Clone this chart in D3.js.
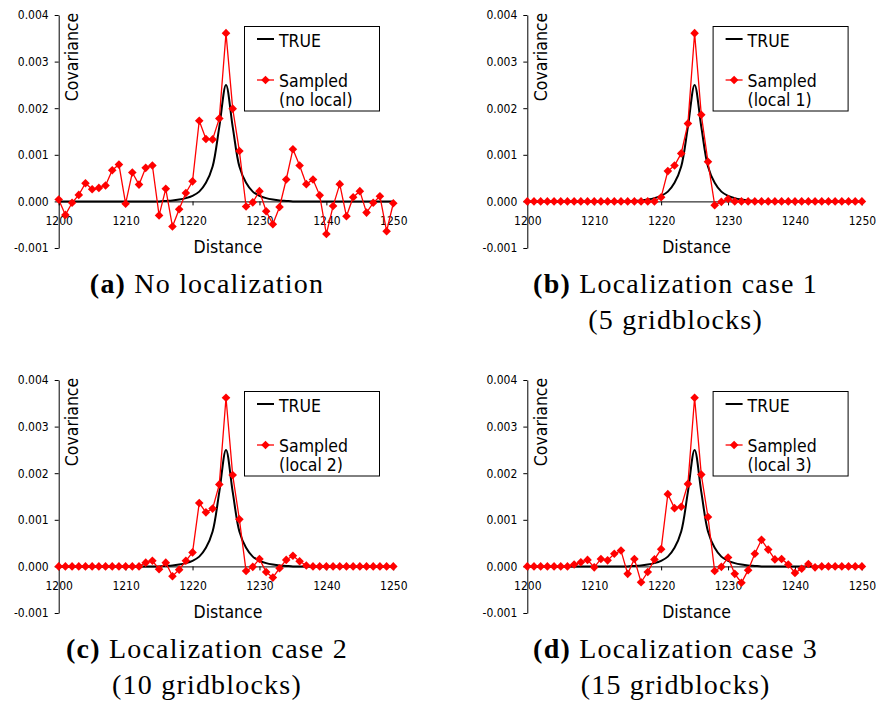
<!DOCTYPE html>
<html>
<head>
<meta charset="utf-8">
<script src="https://cdn.jsdelivr.net/npm/d3@7"></script>
<style>
body { margin: 0; background: #fff; }
svg { display: block; }
.lab { font-family: 'DejaVu Sans Condensed', 'DejaVu Sans', sans-serif; font-size: 17.5px; fill: #000; }
.cap { font-family: 'Liberation Serif', 'Times New Roman', Tinos, 'DejaVu Serif', serif; font-size: 28px; letter-spacing: 1.2px; fill: #000; }
</style>
</head>
<body>
<svg width="876" height="705"></svg>
<script>
// distance axis categories (gridblocks)
var distance = d3.range(1200, 1251)

var trueCov = [
	0,0,0,0,0,0,0,0,0,0,0,0,0,0,0,0,
	0.00001,0.00002,0.00004,0.00007,0.00012,0.00021,0.0004,0.00075,0.0016,
	0.0025,
	0.0016,0.00075,0.0004,0.00021,0.00012,0.00007,0.00004,0.00002,0.00001,
	0,0,0,0,0,0,0,0,0,0,0,0,0,0,0,0
]

var sampledA = [
	0.00004,-0.00029,-0.00003,0.00014,0.00039,0.00026,0.00029,0.00034,0.00067,0.00079,
	-0.00005,0.00062,0.00036,0.00072,0.00077,-0.0003,0.00027,-0.00054,-0.00017,0.00018,
	0.00043,0.00173,0.00134,0.00133,0.00178,0.00361,0.00199,0.00108,-0.00011,-0.00002,
	0.00022,-0.00021,-0.00049,-0.00012,0.00047,0.00112,0.00077,0.00037,0.00047,0.00013,
	-0.0007,-0.0001,0.00037,-0.00032,0.00009,0.00022,-0.00024,-0.00003,0.00011,-0.00064,
	-0.00004
]

var sampledB = [
	0,0,0,0,0,0,0,0,0,0,0,0,0,0,0,0,0,0,0,0,
	0.00009,0.00065,0.00077,0.00103,0.00167,0.00361,0.00186,0.00085,-0.00008,-0.00001,0.00005,
	0,0,0,0,0,0,0,0,0,0,0,0,0,0,0,0,0,0,0,0
]

var sampledC = [
	0,0,0,0,0,0,0,0,0,0,0,0,0,
	0.00008,0.00012,-0.00006,0.00008,-0.00021,-0.00007,0.00012,0.0003,0.00136,0.00116,
	0.00124,0.00176,0.00362,0.00196,0.00101,-0.0001,-0.00001,0.00016,-0.00012,-0.00024,
	-0.00004,0.00014,0.00023,0.00011,0.00002,
	0,0,0,0,0,0,0,0,0,0,0,0,0
]

var sampledD = [
	0,0,0,0,0,0,0,
	0.00004,0.00009,0.00014,-0.00002,0.00016,0.00013,0.00027,0.00034,-0.00016,0.00016,
	-0.00034,-0.00012,0.00015,0.00037,0.00155,0.00125,0.00128,0.00177,0.00362,0.00197,
	0.00106,-0.0001,-0.00001,0.00019,-0.00016,-0.00035,-0.00008,0.00027,0.00057,0.00036,
	0.00015,0.00016,0.00004,-0.00014,-0.00005,0.00005,-0.00002,
	0,0,0,0,0,0,0
]

var legendLabels = ["(no local)", "(local 1)", "(local 2)", "(local 3)"]
var captionTags = ["(a)", "(b)", "(c)", "(d)"]
var captionLines = [
	["No localization"],
	["Localization case 1", "(5 gridblocks)"],
	["Localization case 2", "(10 gridblocks)"],
	["Localization case 3", "(15 gridblocks)"]
]
var yTicks = [-0.001, 0, 0.001, 0.002, 0.003, 0.004]
var xTicks = [1200, 1210, 1220, 1230, 1240, 1250]

var svg = d3.select("svg")

var x = d3.scaleLinear().domain([1200, 1250]).range([58.7, 393.3])
var y = d3.scaleLinear().domain([-0.001, 0.004]).range([248, 15])

var panels = [
	{ sampled: sampledA, idx: 0, ox: 0, oy: 0 },
	{ sampled: sampledB, idx: 1, ox: 468.6, oy: 0 },
	{ sampled: sampledC, idx: 2, ox: 0, oy: 365 },
	{ sampled: sampledD, idx: 3, ox: 468.6, oy: 365 }
]

var straight = d3.line().x((d, i) => x(distance[i])).y(d => y(d))
var smooth = d3.line().x((d, i) => x(distance[i])).y(d => y(d)).curve(d3.curveCatmullRom.alpha(0.5))

var diamond = "M0,-4.3L4.3,0L0,4.3L-4.3,0Z"
var font = "'DejaVu Sans Condensed','DejaVu Sans',sans-serif"
var serif = "'Liberation Serif','Times New Roman',Tinos,'DejaVu Serif',serif"

panels.forEach(function(p) {
	var g = svg.append("g").attr("transform", "translate(" + p.ox + "," + p.oy + ")")

	var ya = g.append("g")
		.attr("transform", "translate(58.7,0)")
		.call(d3.axisLeft(y).tickValues(yTicks).tickFormat(d => d.toFixed(3))
			.tickSize(4).tickSizeOuter(0).tickPadding(6))
	ya.attr("font-size", 12).attr("font-family", font)

	var xa = g.append("g")
		.attr("transform", "translate(0," + y(0) + ")")
		.call(d3.axisBottom(x).tickValues(xTicks).tickFormat(d3.format("d"))
			.tickSize(4).tickSizeOuter(0).tickPadding(11.5))
	xa.attr("font-size", 12).attr("font-family", font)

	g.selectAll(".domain, .tick line").attr("stroke", "#000")
	g.selectAll(".tick text").attr("fill", "#000")

	g.append("text").attr("class", "lab")
		.attr("x", 228).attr("y", 253)
		.attr("text-anchor", "middle")
		.text("Distance")

	g.append("text").attr("class", "lab")
		.attr("transform", "translate(78,57) rotate(-90)")
		.attr("text-anchor", "middle")
		.text("Covariance")

	g.append("path")
		.attr("d", smooth(trueCov))
		.attr("fill", "none").attr("stroke", "#000").attr("stroke-width", 2)

	g.append("path")
		.attr("d", straight(p.sampled))
		.attr("fill", "none").attr("stroke", "#ff0000").attr("stroke-width", 1.3)

	g.selectAll("path.pt").data(p.sampled).enter().append("path")
		.attr("class", "pt")
		.attr("d", diamond)
		.attr("transform", (d, i) => "translate(" + x(distance[i]) + "," + y(d) + ")")
		.attr("fill", "#ff0000")

	// legend
	var lg = g.append("g")
	lg.append("rect").attr("x", 244.5).attr("y", 26.5).attr("width", 135).attr("height", 84.5)
		.attr("fill", "#fff").attr("stroke", "#000").attr("stroke-width", 1)
	lg.append("line").attr("x1", 257).attr("x2", 274).attr("y1", 39).attr("y2", 39)
		.attr("stroke", "#000").attr("stroke-width", 2)
	lg.append("text").attr("class", "lab").attr("x", 279).attr("y", 46.5).text("TRUE")
	lg.append("line").attr("x1", 257).attr("x2", 274).attr("y1", 80).attr("y2", 80)
		.attr("stroke", "#ff0000").attr("stroke-width", 1.3)
	lg.append("path").attr("d", diamond).attr("transform", "translate(265.5,80)").attr("fill", "#ff0000")
	lg.append("text").attr("class", "lab").attr("x", 279).attr("y", 87).text("Sampled")
	lg.append("text").attr("class", "lab").attr("x", 279).attr("y", 106).text(legendLabels[p.idx])

	// caption
	var lines = captionLines[p.idx]
	var c1 = g.append("text").attr("class", "cap").style("font-family", serif)
		.attr("x", 207).attr("y", 293).attr("text-anchor", "middle")
	c1.append("tspan").attr("font-weight", "bold").text(captionTags[p.idx])
	c1.append("tspan").text(" " + lines[0])
	if (lines[1]) {
		g.append("text").attr("class", "cap").style("font-family", serif)
			.attr("x", 207).attr("y", 329).attr("text-anchor", "middle")
			.text(lines[1])
	}
})
</script>
</body>
</html>
